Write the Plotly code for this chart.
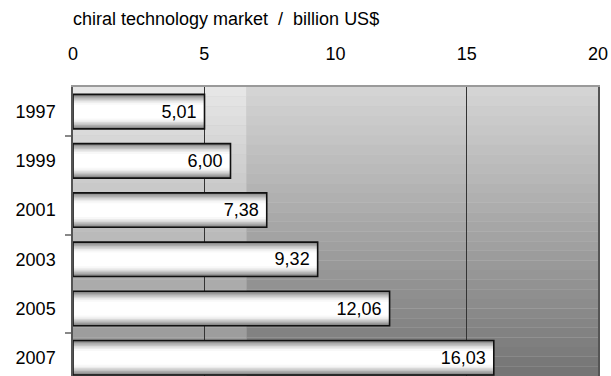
import plotly.graph_objects as go

years = ["1997", "1999", "2001", "2003", "2005", "2007"]
market = [5.01, 6.00, 7.38, 9.32, 12.06, 16.03]
value_labels = ["5,01", "6,00", "7,38", "9,32", "12,06", "16,03"]
x_ticks = [0, 5, 10, 15, 20]

pos = list(range(len(years)))
FONT = "Liberation Sans, Arial, sans-serif"
FS = 18

fig = go.Figure()

# cylindrical gradient look: stacked overlay bars, outer gray to inner white
layers = [
    (0.70, "#7e7e7e"),
    (0.65, "#969696"),
    (0.60, "#adadad"),
    (0.54, "#c4c4c4"),
    (0.48, "#d9d9d9"),
    (0.42, "#ebebeb"),
    (0.36, "#f8f8f8"),
    (0.28, "#ffffff"),
]
for w, c in layers:
    fig.add_trace(go.Bar(
        x=market, y=pos, orientation="h", width=w,
        marker=dict(color=c, line=dict(width=0)),
        hoverinfo="skip", showlegend=False,
    ))

# outline + labels on top (trailing no-break space = inner padding)
fig.add_trace(go.Bar(
    x=market, y=pos, orientation="h", width=0.70,
    marker=dict(color="rgba(0,0,0,0)", line=dict(color="#111111", width=1.6)),
    text=[s + "\u00a0" for s in value_labels], textposition="inside",
    insidetextanchor="end",
    textfont=dict(family=FONT, size=FS, color="#000000"),
    showlegend=False, cliponaxis=False,
))

# background vertical gradient (light top, darker bottom), left column lighter
shapes = []
n = 30
for i in range(n):
    t = i / (n - 1)
    y0 = 1 - i / n
    y1 = 1 - (i + 1) / n
    cr = int(round(212 - t * 95))
    cl = int(round(230 - t * 85))
    shapes.append(dict(type="rect", xref="paper", yref="paper", x0=0.33, x1=1,
                       y0=y1, y1=y0, fillcolor=f"rgb({cr},{cr},{cr})",
                       line=dict(width=0), layer="below"))
    shapes.append(dict(type="rect", xref="paper", yref="paper", x0=0, x1=0.33,
                       y0=y1, y1=y0, fillcolor=f"rgb({cl},{cl},{cl})",
                       line=dict(width=0), layer="below"))

fig.update_layout(
    width=611, height=376,
    margin=dict(l=73, r=13, t=87, b=0),
    barmode="overlay",
    paper_bgcolor="white",
    plot_bgcolor="#c8c8c8",
    shapes=shapes,
    font=dict(family=FONT, size=FS, color="#000000"),
    annotations=[dict(
        text="chiral technology market  /  billion US$",
        xref="paper", yref="paper", x=0, y=1, yshift=56, xshift=-2,
        xanchor="left", yanchor="bottom", showarrow=False,
        font=dict(family=FONT, size=FS, color="#000000"),
    )],
    xaxis=dict(
        side="top", range=[0, 20], tickvals=x_ticks,
        ticktext=[str(v) for v in x_ticks],
        ticks="outside", ticklen=18, tickcolor="rgba(0,0,0,0)",
        showgrid=False, zeroline=False,
        showline=True, linecolor="#9a9a9a", linewidth=1.5,
        minor=dict(tickmode="array", tickvals=[5, 15], showgrid=True,
                   gridcolor="#333333", gridwidth=1, ticks=""),
        tickfont=dict(family=FONT, size=FS),
        fixedrange=True,
    ),
    yaxis=dict(
        range=[5.37, -0.5], tickvals=pos, ticktext=years,
        ticks="outside", ticklen=12, tickcolor="rgba(0,0,0,0)",
        showgrid=False, zeroline=False,
        showline=True, linecolor="#555555", linewidth=1.5, mirror=True,
        minor=dict(tickmode="array", tickvals=[0.5, 2.5, 4.5], ticks="outside",
                   ticklen=6, tickcolor="#888888", tickwidth=1.5, showgrid=False),
        tickfont=dict(family=FONT, size=FS),
        fixedrange=True,
    ),
)

fig.write_html("out.html")
